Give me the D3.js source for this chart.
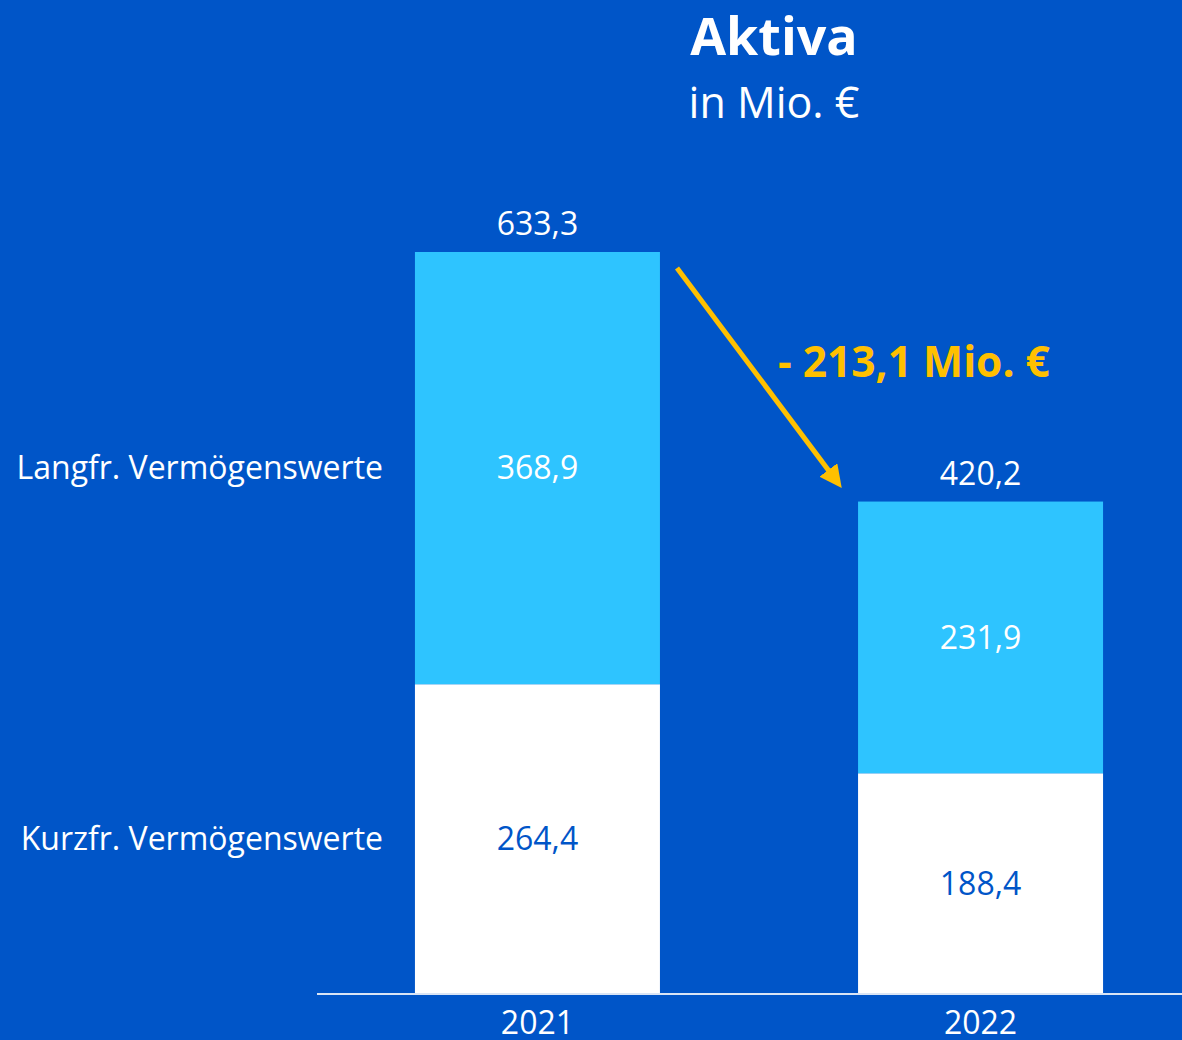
<!DOCTYPE html>
<html>
<head>
<meta charset="utf-8">
<script src="https://cdn.jsdelivr.net/npm/d3@7"></script>
<style>
  body { margin: 0; background: #0055c8; overflow: hidden; }
  svg { display: block; font-family: "Open Sans", sans-serif; }
</style>
</head>
<body>
<svg id="chart"></svg>
<script>
const width = 1182;
const height = 1040;

// data
const years = ['2021', '2022'];
const kurzfr = [264.4, 188.4];
const langfr = [368.9, 231.9];
const totals = [633.3, 420.2];
const seriesNames = ['Kurzfr. Vermögenswerte', 'Langfr. Vermögenswerte'];
const deltaLabel = '- 213,1 Mio. €';

const bg = '#0055c8';
const colors = ['#ffffff', '#2ec4ff'];
const textColors = [bg, '#ffffff'];

const fmt = v => v.toFixed(1).replace('.', ',');

const rows = years.map((y, i) => ({year: y, kurz: kurzfr[i], lang: langfr[i], total: totals[i]}));
const series = d3.stack().keys(['kurz', 'lang'])(rows);

// bars at 415-660 and 858-1103
const x = d3.scaleBand()
    .domain(years)
    .range([317, 1201])
    .paddingInner(0.805)
    .paddingOuter(0.4);

const y = d3.scaleLinear()
    .domain([0, 633.3])
    .range([994, 252]);

const svg = d3.select('#chart')
    .attr('width', width)
    .attr('height', height);

svg.append('rect').attr('width', width).attr('height', height).attr('fill', bg);

// title
svg.append('text')
    .attr('x', 774).attr('y', 55)
    .attr('text-anchor', 'middle')
    .attr('fill', '#fff')
    .attr('font-weight', 'bold')
    .style('font-size', '52px')
    .text('Aktiva');
svg.append('text')
    .attr('x', 774).attr('y', 118)
    .attr('text-anchor', 'middle')
    .attr('fill', '#fff')
    .style('font-size', '43px')
    .text('in Mio. €');

// bars
const bw = 245;
const barX = d => x(d) + x.bandwidth() / 2 - bw / 2;

const layers = svg.append('g')
    .selectAll('g')
    .data(series)
    .join('g')
    .attr('fill', (d, i) => colors[i]);

layers.selectAll('rect')
    .data(d => d)
    .join('rect')
    .attr('x', d => barX(d.data.year))
    .attr('y', d => y(d[1]))
    .attr('width', bw)
    .attr('height', d => y(d[0]) - y(d[1]));

// segment labels
series.forEach((s, i) => {
    svg.append('g')
        .selectAll('text')
        .data(s)
        .join('text')
        .attr('x', d => barX(d.data.year) + bw / 2)
        .attr('y', d => (y(d[0]) + y(d[1])) / 2)
        .attr('dy', '0.35em')
        .attr('text-anchor', 'middle')
        .attr('fill', textColors[i])
        .style('font-size', '32px')
        .text(d => fmt(d[1] - d[0]));
});

// totals
svg.append('g')
    .selectAll('text')
    .data(rows)
    .join('text')
    .attr('x', d => barX(d.year) + bw / 2)
    .attr('y', d => y(d.total) - 28)
    .attr('dy', '0.35em')
    .attr('text-anchor', 'middle')
    .attr('fill', '#fff')
    .style('font-size', '32px')
    .text(d => fmt(d.total));

// series labels on the left, aligned with 2021 segments
svg.append('g')
    .selectAll('text')
    .data(series)
    .join('text')
    .attr('x', 383)
    .attr('y', d => (y(d[0][0]) + y(d[0][1])) / 2)
    .attr('dy', '0.35em')
    .attr('text-anchor', 'end')
    .attr('fill', '#fff')
    .style('font-size', '32px')
    .text((d, i) => seriesNames[i]);

// baseline axis (year labels run off the bottom edge, as in the original)
const axis = svg.append('g')
    .attr('transform', `translate(0,${y(0)})`)
    .call(d3.axisBottom(x).tickSize(0).tickPadding(17));
axis.select('.domain').remove();
axis.append('line')
    .attr('x1', 317).attr('x2', width)
    .attr('stroke', '#d9e4f5').attr('stroke-width', 2);
axis.selectAll('.tick text')
    .attr('fill', '#fff')
    .style('font-family', '"Open Sans", sans-serif')
    .style('font-size', '32px');

// arrow
const defs = svg.append('defs');
defs.append('marker')
    .attr('id', 'arrowhead')
    .attr('viewBox', '0 0 10 10')
    .attr('refX', 5).attr('refY', 5)
    .attr('markerWidth', 4.5).attr('markerHeight', 4.5)
    .attr('orient', 'auto')
    .append('path')
    .attr('d', 'M0,0 L10,5 L0,10 Z')
    .attr('fill', '#ffc000');

svg.append('line')
    .attr('x1', 677).attr('y1', 268)
    .attr('x2', 835).attr('y2', 479)
    .attr('stroke', '#ffc000')
    .attr('stroke-width', 5)
    .attr('marker-end', 'url(#arrowhead)');

svg.append('text')
    .attr('x', 778).attr('y', 377)
    .attr('fill', '#ffc000')
    .attr('font-weight', 'bold')
    .style('font-size', '42.5px')
    .text(deltaLabel);
</script>
</body>
</html>
